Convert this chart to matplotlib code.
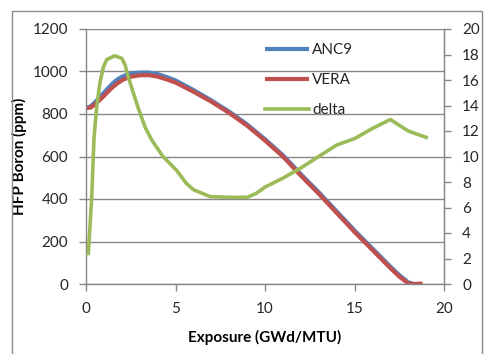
import matplotlib
matplotlib.use("Agg")
import matplotlib.pyplot as plt
from matplotlib.patches import Rectangle

# Data
exp_boron = [0, 0.25, 0.5, 0.75, 1.0, 1.25, 1.5, 1.75, 2.0, 2.25, 2.5, 2.75, 3.0, 3.5, 4.0,
             4.5, 5.0, 6.0, 7.0, 8.0, 9.0, 10.0, 11.0, 12.0, 13.0, 14.0, 15.0, 16.0,
             17.0, 17.5, 18.0, 18.3]
anc9 = [830, 835, 855, 878, 900, 923, 945, 962, 975, 984, 990, 993, 995, 995, 988,
        974, 958, 913, 864, 811, 751, 681, 606, 517, 432, 342, 252, 167,
        82, 42, 8, 0]
exp_vera = [0, 0.25, 0.5, 0.75, 1.0, 1.25, 1.5, 1.75, 2.0, 2.25, 2.5, 2.75, 3.0, 3.5, 4.0,
            4.5, 5.0, 6.0, 7.0, 8.0, 9.0, 10.0, 11.0, 12.0, 13.0, 14.0, 15.0, 16.0,
            17.0, 17.5, 18.0, 18.3, 18.8]
vera = [828, 830, 845, 865, 885, 907, 927, 944, 958, 968, 975, 979, 982, 983, 976,
        963, 948, 905, 858, 805, 745, 675, 600, 510, 425, 335, 245, 160,
        75, 35, 3, 0, 2]
exp_delta = [0.13, 0.32, 0.45, 0.6, 0.78, 0.97, 1.16, 1.6, 2.0, 2.18, 2.35, 2.64, 2.92,
             3.3, 3.67, 4.3, 5.07, 5.6, 6.0, 6.93, 8.0, 9.0, 9.5, 10.0, 11.0, 12.0,
             13.0, 14.0, 15.0, 16.0, 17.0, 18.0, 19.0]
delta = [2.4, 6.8, 11.5, 13.9, 15.8, 17.0, 17.6, 17.9, 17.7, 17.2, 16.3, 15.0, 13.8,
         12.3, 11.3, 10.0, 8.9, 7.9, 7.4, 6.85, 6.8, 6.8, 7.1, 7.6, 8.3, 9.1,
         10.0, 10.9, 11.4, 12.2, 12.9, 12.0, 11.5]

xticks = [0, 5, 10, 15, 20]
yticks_left = [0, 200, 400, 600, 800, 1000, 1200]
yticks_right = [0, 2, 4, 6, 8, 10, 12, 14, 16, 18, 20]

plt.rcParams['font.family'] = ['Lato', 'DejaVu Sans']

W, H = 491, 354
fig = plt.figure(figsize=(W / 100, H / 100), dpi=100)
fig.patch.set_facecolor('white')

# outer chart border
fig.patches.append(Rectangle((12 / W, -0.05), (482 - 12) / W, (H - 11) / H + 0.05,
                             transform=fig.transFigure, fill=False,
                             edgecolor='#8c8c8c', linewidth=1.0))

ax = fig.add_axes([86 / W, (H - 284) / H, (444 - 86) / W, (284 - 29) / H])
grid_c = '#878787'
txt_c = '#262626'

ax.plot(exp_boron, anc9, color='#4F81BD', lw=3.0, label='ANC9',
        solid_capstyle='butt', solid_joinstyle='round')
ax.plot(exp_vera, vera, color='#C0504D', lw=3.0, label='VERA',
        solid_capstyle='butt', solid_joinstyle='round')
ax.set_xlim(0, 20)
ax.set_ylim(0, 1200)
ax.set_xticks(xticks)
ax.set_yticks(yticks_left)
ax.yaxis.grid(True, color=grid_c, lw=1.0)
ax.set_axisbelow(True)
ax.spines['top'].set_visible(False)
for s in ['left', 'bottom', 'right']:
    ax.spines[s].set_color(grid_c)
    ax.spines[s].set_linewidth(1.0)
ax.tick_params(axis='both', direction='out', length=5, color=grid_c, width=1.0,
               labelsize=11, labelcolor=txt_c, pad=8)
ax.set_xlabel('Exposure (GWd/MTU)', fontsize=11, fontweight='bold', color='black')
ax.xaxis.set_label_coords(0.5, -(330 - 284) / (284 - 29))
ax.set_ylabel('HFP Boron (ppm)', fontsize=11, fontweight='bold', color='black')
ax.yaxis.set_label_coords(-(86 - 27) / (444 - 86), 0.5)

ax2 = ax.twinx()
ax2.plot(exp_delta, delta, color='#9BBB59', lw=2.6, label='delta',
         solid_joinstyle='round')
ax2.set_ylim(0, 20)
ax2.set_yticks(yticks_right)
for s in ['top', 'left', 'bottom']:
    ax2.spines[s].set_visible(False)
ax2.spines['right'].set_color(grid_c)
ax2.tick_params(axis='y', direction='out', length=5, color=grid_c, width=1.0,
                labelsize=11, labelcolor=txt_c, pad=8)

h1, l1 = ax.get_legend_handles_labels()
h2, l2 = ax2.get_legend_handles_labels()
leg = ax2.legend(h1 + h2, l1 + l2, loc='upper left', frameon=False,
                 bbox_to_anchor=((265 - 86) / (444 - 86), 1 - (43 - 29) / (284 - 29)),
                 handlelength=2.9, handletextpad=0.2, labelspacing=1.05,
                 borderaxespad=0, borderpad=0, fontsize=11)
for t in leg.get_texts():
    t.set_color(txt_c)

fig.savefig('out.png', dpi=100, facecolor='white')
